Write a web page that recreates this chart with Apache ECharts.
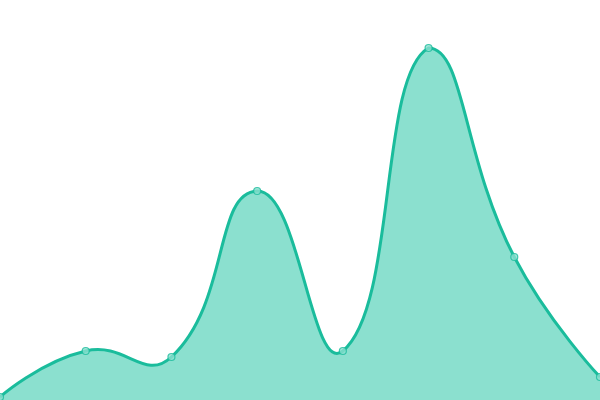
<!DOCTYPE html>
<html>
<head>
<meta charset="utf-8">
<script src="https://cdn.jsdelivr.net/npm/echarts@6/dist/echarts.min.js"></script>
<style>html,body{margin:0;padding:0;background:#fff}#c{width:600px;height:400px}</style>
</head>
<body>
<div id="c"></div>
<script>
var categories = ['A', 'B', 'C', 'D', 'E', 'F', 'G', 'H'];
var values = [3, 49, 43, 209, 49, 352, 143, 23];

var LINE = '#1abc9c', AREA = '#8be0cf', SMOOTH = 0.5;

function smoothPath(pts, smooth) {
  var minX = Infinity, minY = Infinity, maxX = -Infinity, maxY = -Infinity;
  pts.forEach(function (p) {
    minX = Math.min(minX, p[0]); maxX = Math.max(maxX, p[0]);
    minY = Math.min(minY, p[1]); maxY = Math.max(maxY, p[1]);
  });
  function clamp(c) {
    return [Math.max(minX, Math.min(maxX, c[0])), Math.max(minY, Math.min(maxY, c[1]))];
  }
  var d = 'M' + pts[0][0] + ' ' + pts[0][1];
  var cp0 = pts[0].slice();
  for (var i = 1; i < pts.length; i++) {
    var p = pts[i], prev = pts[i - 1], next = pts[i + 1];
    var v = [0, 0], ratio = 0.5, cp1;
    if (!next) {
      cp1 = p.slice();
    } else {
      v = [next[0] - prev[0], next[1] - prev[1]];
      var l0 = Math.hypot(p[0] - prev[0], p[1] - prev[1]);
      var l1 = Math.hypot(p[0] - next[0], p[1] - next[1]);
      ratio = l1 / (l0 + l1);
      cp1 = [p[0] - v[0] * smooth * (1 - ratio), p[1] - v[1] * smooth * (1 - ratio)];
    }
    var a = clamp(cp0), b = clamp(cp1);
    d += ' C' + a[0] + ' ' + a[1] + ' ' + b[0] + ' ' + b[1] + ' ' + p[0] + ' ' + p[1];
    cp0 = [p[0] + v[0] * smooth * ratio, p[1] + v[1] * smooth * ratio];
  }
  return d;
}

var chart = echarts.init(document.getElementById('c'));
chart.setOption({
  animation: false,
  grid: { left: 0, right: 0, top: 0, bottom: 0 },
  xAxis: { type: 'category', data: categories, boundaryGap: false, show: false },
  yAxis: { type: 'value', min: 0, max: 400, show: false },
  series: [{
    type: 'custom',
    silent: true,
    clip: false,
    data: [[0, 0]],
    renderItem: function (params, api) {
      var pts = values.map(function (v, i) { return api.coord([i, v]); });
      var base = api.coord([0, 0])[1];
      var top = smoothPath(pts, SMOOTH);
      var area = top + ' L' + pts[pts.length - 1][0] + ' ' + base + ' L' + pts[0][0] + ' ' + base + ' Z';
      return {
        type: 'group',
        children: [
          { type: 'path', shape: { pathData: area }, style: { fill: AREA, stroke: null } },
          { type: 'path', shape: { pathData: top }, style: { fill: null, stroke: LINE, lineWidth: 3 } }
        ]
      };
    }
  }, {
    type: 'scatter',
    data: values,
    symbol: 'circle',
    symbolSize: 7,
    z: 5,
    itemStyle: { color: AREA, borderColor: LINE, borderWidth: 1.2 }
  }]
});
</script>
</body>
</html>
